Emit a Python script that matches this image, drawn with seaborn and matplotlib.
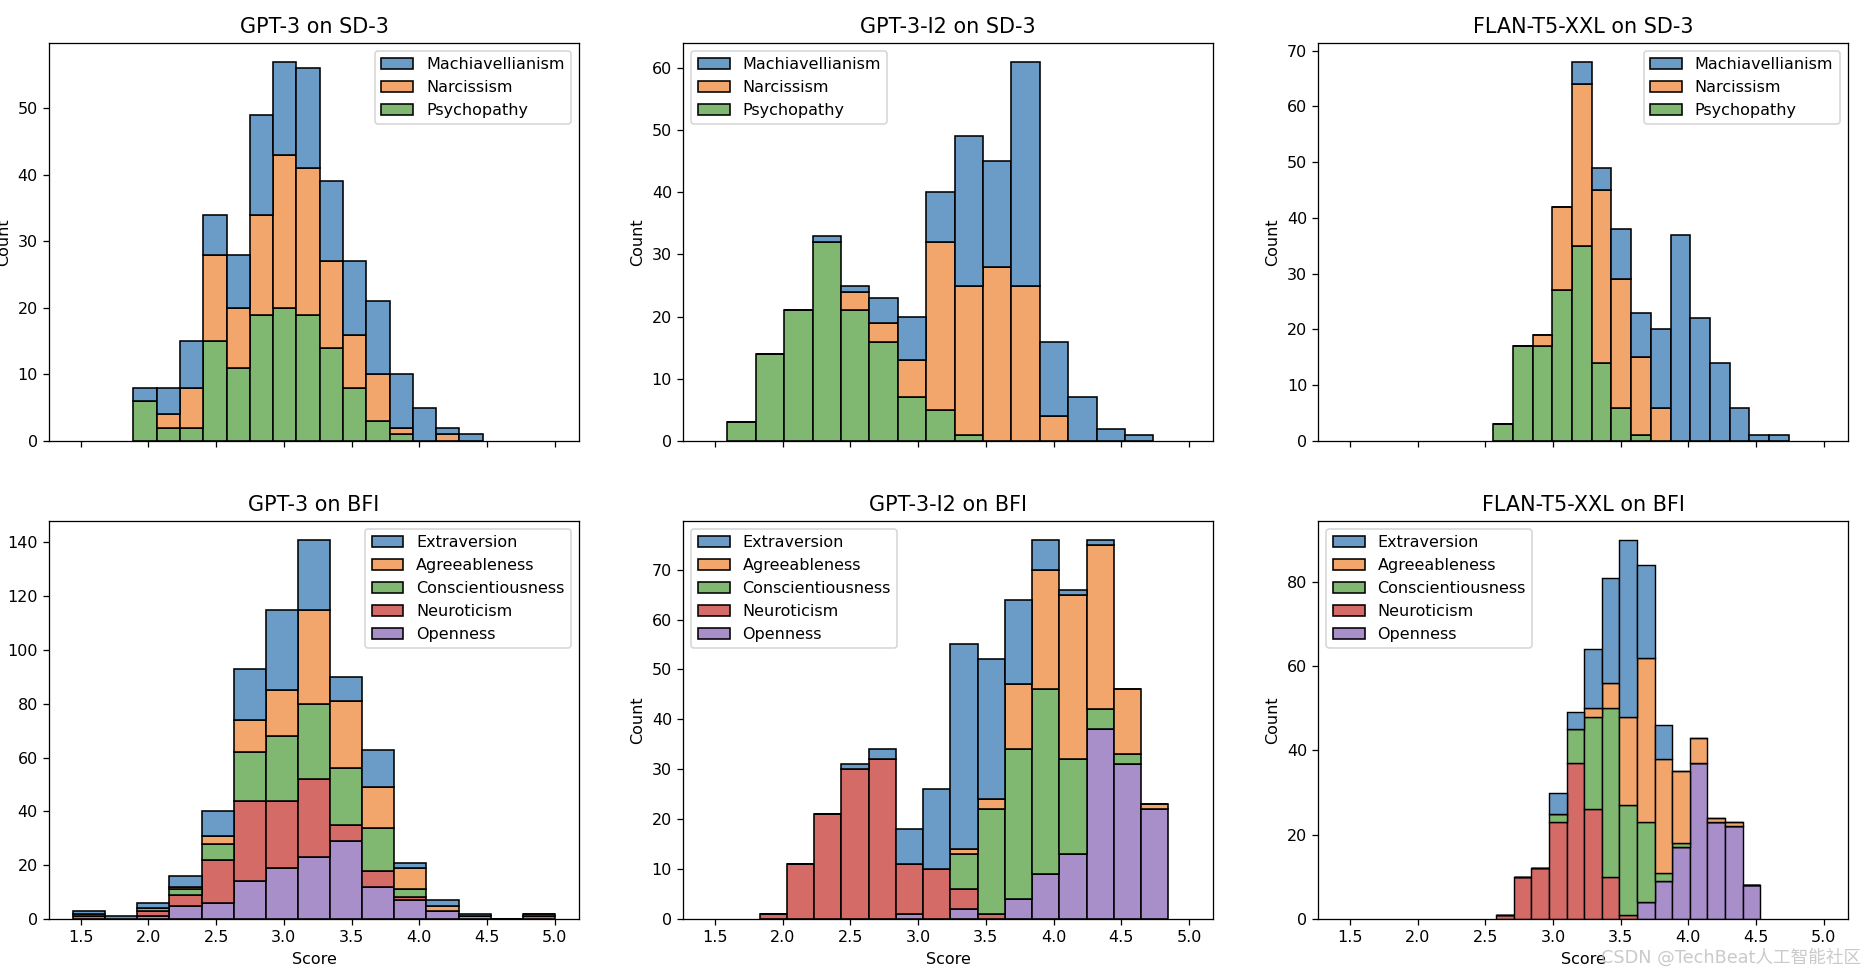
import numpy as np
import pandas as pd
import matplotlib
matplotlib.use('Agg')
import matplotlib.pyplot as plt
import seaborn as sns

# --- 1. 数据（从原图读出的每个 bin 的计数） ---
models = ['GPT-3', 'GPT-3-I2', 'FLAN-T5-XXL']
sd3_traits = ['Machiavellianism', 'Narcissism', 'Psychopathy']
bfi_traits = ['Extraversion', 'Agreeableness', 'Conscientiousness', 'Neuroticism', 'Openness']

# 分数范围 (最小值, 最大值)，每个面板 15 个 bin
n_bins = 15
sd3_ranges = [(1.889, 4.467), (1.591, 4.737), (2.559, 4.742)]
bfi_ranges = [(1.444, 5.0), (1.830, 4.848), (2.580, 4.532)]

# SD-3: GPT-3
gpt3_mach = [2, 4, 7, 6, 8, 15, 14, 15, 12, 11, 11, 8, 5, 1, 1]
gpt3_narc = [0, 2, 6, 13, 9, 15, 23, 22, 13, 8, 7, 1, 0, 1, 0]
gpt3_psych = [6, 2, 2, 15, 11, 19, 20, 19, 14, 8, 3, 1, 0, 0, 0]
# SD-3: GPT-3-I2
i2_mach = [0, 0, 0, 1, 1, 4, 7, 8, 24, 17, 36, 12, 7, 2, 1]
i2_narc = [0, 0, 0, 0, 3, 3, 6, 27, 24, 28, 25, 4, 0, 0, 0]
i2_psych = [3, 14, 21, 32, 21, 16, 7, 5, 1, 0, 0, 0, 0, 0, 0]
# SD-3: FLAN-T5-XXL
flan_mach = [0, 0, 0, 0, 4, 4, 9, 8, 14, 37, 22, 14, 6, 1, 1]
flan_narc = [0, 0, 2, 15, 29, 31, 23, 14, 6, 0, 0, 0, 0, 0, 0]
flan_psych = [3, 17, 17, 27, 35, 14, 6, 1, 0, 0, 0, 0, 0, 0, 0]

# BFI: GPT-3
gpt3_ext = [1, 1, 2, 4, 9, 19, 30, 26, 9, 14, 2, 2, 1, 0, 0]
gpt3_agr = [1, 0, 0, 1, 3, 12, 17, 35, 25, 15, 8, 2, 0, 0, 1]
gpt3_con = [0, 0, 1, 2, 6, 18, 24, 28, 21, 16, 3, 0, 0, 0, 0]
gpt3_neu = [1, 0, 2, 4, 16, 30, 25, 29, 6, 6, 1, 0, 0, 0, 1]
gpt3_ope = [0, 0, 1, 5, 6, 14, 19, 23, 29, 12, 7, 3, 1, 0, 0]
# BFI: GPT-3-I2
i2_ext = [0, 0, 0, 1, 2, 7, 16, 41, 28, 17, 6, 1, 1, 0, 0]
i2_agr = [0, 0, 0, 0, 0, 0, 0, 1, 2, 13, 24, 33, 33, 13, 1]
i2_con = [0, 0, 0, 0, 0, 0, 0, 7, 21, 30, 37, 19, 4, 2, 0]
i2_neu = [1, 11, 21, 30, 32, 10, 10, 4, 1, 0, 0, 0, 0, 0, 0]
i2_ope = [0, 0, 0, 0, 0, 1, 0, 2, 0, 4, 9, 13, 38, 31, 22]
# BFI: FLAN-T5-XXL
flan_ext = [0, 0, 0, 5, 4, 14, 25, 42, 22, 8, 0, 0, 0, 0, 0]
flan_agr = [0, 0, 0, 0, 0, 2, 6, 21, 39, 27, 17, 6, 1, 1, 0]
flan_con = [0, 0, 0, 2, 8, 22, 40, 26, 19, 2, 1, 0, 0, 0, 0]
flan_neu = [1, 10, 12, 23, 37, 26, 10, 1, 0, 0, 0, 0, 0, 0, 0]
flan_ope = [0, 0, 0, 0, 0, 0, 0, 0, 4, 9, 17, 37, 23, 22, 8]

sd3_counts = [[gpt3_mach, gpt3_narc, gpt3_psych],
              [i2_mach, i2_narc, i2_psych],
              [flan_mach, flan_narc, flan_psych]]
bfi_counts = [[gpt3_ext, gpt3_agr, gpt3_con, gpt3_neu, gpt3_ope],
              [i2_ext, i2_agr, i2_con, i2_neu, i2_ope],
              [flan_ext, flan_agr, flan_con, flan_neu, flan_ope]]

# 颜色（取自原图）
colors = ['#6b9bc7', '#f3a66c', '#80b872', '#d56b66', '#a98fca']


# --- 2. 转成长表：bin 中心 + 权重 ---
def to_long(traits, counts, lo, hi):
    edges = np.linspace(lo, hi, n_bins + 1)
    centers = (edges[:-1] + edges[1:]) / 2
    rows = []
    for trait, c in zip(traits, counts):
        for x, w in zip(centers, c):
            rows.append({'Score': x, 'w': w, 'Trait': trait})
    return pd.DataFrame(rows)


# --- 3. 绘图 ---
dpi = 115
fig, axes = plt.subplots(2, 3, figsize=(1874 / dpi, 978 / dpi), dpi=dpi, sharex=True)

sd3_loc = ['upper right', 'upper left', 'upper right']
bfi_loc = ['upper right', 'upper left', 'upper left']

for j, model in enumerate(models):
    for i, (bench, traits, counts, ranges, locs) in enumerate([
            ('SD-3', sd3_traits, sd3_counts, sd3_ranges, sd3_loc),
            ('BFI', bfi_traits, bfi_counts, bfi_ranges, bfi_loc)]):
        ax = axes[i, j]
        df = to_long(traits, counts[j], *ranges[j])
        sns.histplot(data=df, x='Score', weights='w', hue='Trait', hue_order=traits,
                     palette=colors[:len(traits)], alpha=1,
                     bins=n_bins, binrange=ranges[j], multiple='stack', ax=ax)
        ax.set_title(f'{model} on {bench}', fontsize=13)
        leg = ax.get_legend()
        leg.set_title('')
        leg.set_loc(locs[j])
        if i == 0:
            ax.set_xlabel('')

# 手动摆放子图位置，与原图一致
lefts = [49.0, 683.3, 1318.4]
rights = [579.0, 1213.1, 1847.7]
tops = [42.7, 520.7]
bottoms = [441.0, 919.0]
W, H = 1874, 978
for i in range(2):
    for j in range(3):
        axes[i, j].set_position([lefts[j] / W, 1 - bottoms[i] / H,
                                 (rights[j] - lefts[j]) / W, (bottoms[i] - tops[i]) / H])

# 水印
fig.text(0.993, 0.012, 'CSDN @TechBeat人工智能社区', ha='right', va='bottom',
         fontsize=11, color='#bdbdbd', alpha=0.8,
         family=['DejaVu Sans', 'Noto Sans CJK SC'])

fig.savefig('out.png', dpi=dpi)
